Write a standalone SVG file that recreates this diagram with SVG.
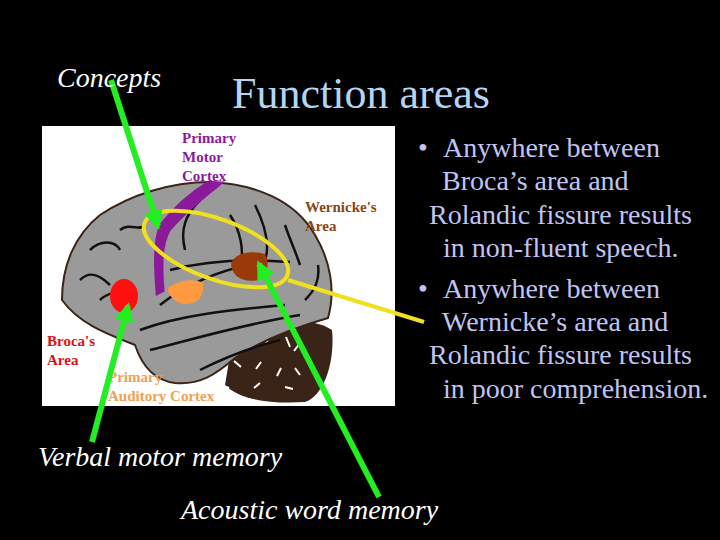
<svg xmlns="http://www.w3.org/2000/svg" width="720" height="540" viewBox="0 0 720 540">
<defs>
<style>
.it{font-family:"Liberation Serif",serif;font-style:italic;fill:#fff;font-size:28px}
.bl{font-family:"Liberation Serif",serif;fill:#c0c4f4;font-size:28px}
.lb{font-family:"Liberation Serif",serif;font-weight:bold;font-size:15px}
.g{stroke:#22ee22;stroke-width:6;fill:none;marker-end:url(#ah)}
.sul{stroke:#111;stroke-width:2.5;fill:none}
</style>
<marker id="ah" viewBox="0 0 10 10" refX="8" refY="5" markerWidth="3.2" markerHeight="3.2" orient="auto"><path d="M0,0 L10,5 L0,10 Z" fill="#22ee22"/></marker>
</defs>
<rect width="720" height="540" fill="#000"/>
<g id="brain">
<rect x="42" y="126" width="353" height="280" fill="#fff"/>
<path d="M235,325 C275,318 315,318 332,330 C335,360 325,395 305,402 C270,404 240,400 225,385 Z" fill="#3a2418"/>
<path d="M235,330 l8,5 m10,-3 l6,8 m12,-6 l-5,9 m20,-6 l4,10 m10,-4 l-6,8 m-60,10 l7,6 m15,2 l5,-7 m20,6 l-4,8 m18,-8 l5,7 m-80,10 l9,3 m25,0 l6,-5 m25,4 l8,2" stroke="#fff" stroke-width="2"/>
<path d="M62,300 C62,265 75,235 100,215 C130,195 170,182 210,182 C255,184 295,200 315,235 C330,260 336,290 328,318 C300,326 265,338 235,358 C215,375 200,385 175,383 C150,380 140,360 135,345 C110,335 80,325 62,300 Z" fill="#9a9a9a" stroke="#3a2418" stroke-width="2"/>
<path class="sul" d="M140,330 C180,315 230,310 285,305 M150,350 C190,340 240,325 300,315 M200,370 C230,355 260,345 280,340 M170,270 C200,262 240,258 290,262 M160,305 C185,285 220,270 250,265 M90,250 C100,240 115,240 120,250 M80,280 C90,270 100,275 110,285 M100,300 C110,290 120,295 125,285 M120,230 C130,222 140,232 145,225 M230,215 C240,230 245,250 240,270 M255,205 C265,225 270,245 265,260 M285,225 C290,240 295,250 300,265 M200,200 C185,215 180,230 185,250 M305,300 C315,290 320,280 318,265"/>
<path d="M218,184 C205,195 185,210 168,230 C160,245 160,265 162,290 L158,292 C156,265 155,240 162,225 C178,205 195,192 208,184 Z" fill="#8a1a9a" stroke="#8a1a9a" stroke-width="5"/>
<ellipse cx="124" cy="296" rx="14" ry="17" fill="#ff1010"/>
<path d="M168,288 C178,280 195,278 203,283 C205,295 198,305 183,304 C175,302 168,296 168,288 Z" fill="#ff9a40"/>
<path d="M231,265 C233,253 250,250 265,254 C270,262 268,275 258,280 C245,283 233,278 231,265 Z" fill="#9a3a08"/>
<text class="lb" fill="#8a1a9a" x="182" y="143">Primary</text>
<text class="lb" fill="#8a1a9a" x="182" y="162">Motor</text>
<text class="lb" fill="#8a1a9a" x="182" y="181">Cortex</text>
<text class="lb" fill="#8b4513" x="305" y="212">Wernicke's</text>
<text class="lb" fill="#8b4513" x="305" y="231">Area</text>
<text class="lb" fill="#dd1111" x="47" y="346">Broca's</text>
<text class="lb" fill="#dd1111" x="47" y="365">Area</text>
<text class="lb" fill="#f0a050" x="108" y="382">Primary</text>
<text class="lb" fill="#f0a050" x="108" y="401">Auditory Cortex</text>
</g>
<g id="connectors">
<ellipse cx="216" cy="249" rx="76" ry="30" transform="rotate(20 216 249)" fill="none" stroke="#f0e020" stroke-width="4"/>
<line x1="288" y1="280" x2="424" y2="322" stroke="#f0e020" stroke-width="4"/>
<line class="g" x1="111" y1="80" x2="158" y2="226"/>
<line class="g" x1="92" y1="442" x2="128" y2="306"/>
<line class="g" x1="379" y1="497" x2="259" y2="264"/>
</g>
<g id="text">
<text class="it" x="57" y="87">Concepts</text>
<text x="232" y="108" font-family="Liberation Serif,serif" font-size="44" fill="#b4d4f4">Function areas</text>
<text class="it" x="38" y="466">Verbal motor memory</text>
<text class="it" x="181" y="519">Acoustic word memory</text>
<text class="bl" x="418" y="157">•</text>
<text class="bl" x="443" y="157">Anywhere between</text>
<text class="bl" x="442" y="190">Broca’s area and</text>
<text class="bl" x="429" y="224">Rolandic fissure results</text>
<text class="bl" x="443" y="257">in non-fluent speech.</text>
<text class="bl" x="418" y="298">•</text>
<text class="bl" x="443" y="298">Anywhere between</text>
<text class="bl" x="442" y="331">Wernicke’s area and</text>
<text class="bl" x="429" y="364">Rolandic fissure results</text>
<text class="bl" x="443" y="398">in poor comprehension.</text>
</g>
</svg>
